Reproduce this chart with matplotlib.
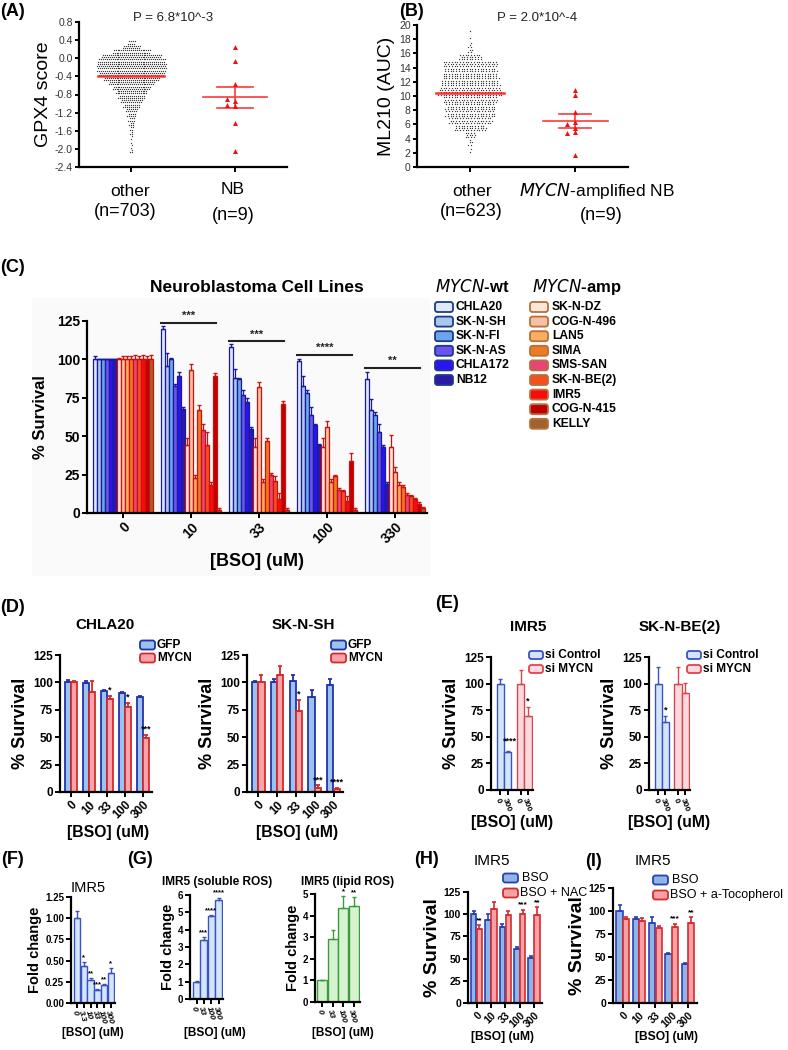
import numpy as np
import matplotlib
matplotlib.use("Agg")
import matplotlib.pyplot as plt
from matplotlib.patches import FancyBboxPatch, Rectangle

plt.rcParams['font.family'] = ['Liberation Sans', 'DejaVu Sans']
plt.rcParams['axes.unicode_minus'] = False

W, H = 788, 1050

# ---------------- data ----------------
# (A) GPX4 score, 'other' lines: counts per 0.1 bin (lower edge listed)
gpx4_bin_lo = [-2.1, -2.0, -1.9, -1.8, -1.7, -1.6, -1.5, -1.4, -1.3, -1.2, -1.1, -1.0, -0.9,
               -0.8, -0.7, -0.6, -0.5, -0.4, -0.3, -0.2, -0.1, 0.0, 0.1, 0.2, 0.3]
gpx4_counts = [3, 2, 1, 2, 3, 4, 5, 7, 9, 12, 17, 22, 27,
               33, 40, 48, 58, 68, 72, 72, 70, 62, 40, 18, 8]
gpx4_nb = [0.25, -0.07, -0.56, -0.94, -0.89, -1.06, -1.04, -1.43, -2.05]
gpx4_ticks = ['-2.4', '-2.0', '-1.6', '-1.2', '-0.8', '-0.4', '0.0', '0.4', '0.8']

# (B) ML210 AUC, 'other' lines: counts per 1.0 bin
ml210_bin_lo = [2, 3, 4, 5, 6, 7, 8, 9, 10, 11, 12, 13, 14, 15, 16, 17, 18, 19]
ml210_counts = [2, 5, 12, 35, 48, 55, 55, 60, 70, 65, 62, 59, 60, 25, 6, 2, 1, 1]
ml210_nb = [10.8, 10.2, 7.8, 6.3, 6.1, 5.5, 5.0, 4.8, 1.7]

# (C) neuroblastoma cell lines
bso_c = ['0', '10', '33', '100', '330']
wt_lines = ['CHLA20', 'SK-N-SH', 'SK-N-FI', 'SK-N-AS', 'CHLA172', 'NB12']
amp_lines = ['SK-N-DZ', 'COG-N-496', 'LAN5', 'SIMA', 'SMS-SAN', 'SK-N-BE(2)', 'IMR5',
             'COG-N-415', 'KELLY']
wt_colors = ['#dde9f7', '#a8c8eb', '#6aa6ec', '#6b55ee', '#2a14f2', '#2a1aa6']
amp_colors = ['#fbe6da', '#f6c2a2', '#f9ae5f', '#ee7a22', '#e84478', '#f3501f', '#ff0a0a',
              '#c00000', '#a0622e']
# rows = cell lines (wt then amp), columns = BSO dose
c_surv = [
    [100, 120, 108, 99, 87],
    [100, 96, 88, 83, 67],
    [100, 100, 87, 78, 64],
    [100, 83, 77, 64, 53],
    [100, 89, 72, 57, 43],
    [100, 68, 55, 44, 19],
    [100, 44, 43, 43, 43],
    [100, 93, 82, 56, 27],
    [100, 23, 20, 20, 18],
    [100, 67, 47, 24, 17],
    [100, 54, 25, 15, 12],
    [100, 44, 21, 14, 11],
    [100, 18, 9, 8, 9],
    [100, 89, 71, 34, 6],
    [100, 2, 2, 2, 3],
]
c_err = [
    [2, 2, 2, 1, 5],
    [0, 8, 6, 6, 7],
    [0, 1, 1, 2, 2],
    [0, 1, 3, 5, 5],
    [0, 3, 3, 1, 1],
    [0, 1, 1, 1, 1],
    [1, 5, 6, 6, 8],
    [2, 4, 3, 4, 3],
    [2, 2, 2, 2, 2],
    [2, 3, 2, 1, 1],
    [3, 4, 1, 1, 1],
    [2, 9, 3, 1, 1],
    [3, 2, 4, 3, 1],
    [2, 2, 2, 5, 1],
    [3, 1, 1, 1, 1],
]
c_sig = ['', '***', '***', '****', '**']
c_sig_y = [0, 124, 112, 103, 94.5]

# (D) GFP vs MYCN overexpression
bso_d = ['0', '10', '33', '100', '300']
chla20_gfp = [100, 99, 92, 90, 87]
chla20_gfp_err = [2, 2, 1, 1, 1]
chla20_mycn = [100, 91, 85, 78, 49]
chla20_mycn_err = [1, 10, 3, 3, 3]
chla20_stars = ['', '', '*', '*', '***']
sknsh_gfp = [100, 100, 101, 87, 98]
sknsh_gfp_err = [1, 3, 6, 6, 5]
sknsh_mycn = [100, 107, 74, 4, 3]
sknsh_mycn_err = [7, 8, 10, 2, 1]
sknsh_stars = ['', '', '*', '***', '****']

# (E) siRNA knockdown, BSO 0 / 300
bso_e = ['0', '300']
imr5_sictl = [100, 36]
imr5_sictl_err = [4, 1]
imr5_simycn = [100, 70]
imr5_simycn_err = [13, 8]
be2_sictl = [100, 64]
be2_sictl_err = [16, 6]
be2_simycn = [100, 91]
be2_simycn_err = [16, 10]

# (F) GSH fold change
bso_f = ['0', '3.3', '10', '33', '100', '300']
gsh_fold = [1.00, 0.44, 0.27, 0.15, 0.21, 0.35]
gsh_err = [0.08, 0.04, 0.02, 0.01, 0.01, 0.06]
gsh_stars = ['', '*', '**', '***', '**', '*']

# (G) ROS
bso_g = ['0', '33', '100', '300']
sol_ros = [1.0, 3.4, 4.78, 5.7]
sol_ros_err = [0.02, 0.15, 0.05, 0.15]
sol_stars = ['', '***', '****', '****']
lip_ros = [1.0, 2.9, 4.35, 4.45]
lip_ros_err = [0.03, 0.45, 0.55, 0.4]
lip_stars = ['', '', '*', '**']

# (H) NAC rescue
bso_h = ['0', '10', '33', '100', '300']
h_bso = [100, 94, 86, 61, 51]
h_bso_err = [4, 6, 3, 2, 2]
h_nac = [83, 106, 99, 100, 99]
h_nac_err = [5, 8, 5, 5, 9]
h_stars = ['**', '', '', '***', '**']

# (I) a-tocopherol rescue
i_bso = [100, 91, 87, 53, 42]
i_bso_err = [7, 3, 7, 1, 1]
i_toc = [91, 89, 81, 83, 87]
i_toc_err = [2, 3, 3, 3, 6]
i_stars = ['', '', '', '***', '**']

# ---------------- helpers ----------------
fig = plt.figure(figsize=(W / 100, H / 100), dpi=100)

# very faint grey backdrop behind the (C) plot, as in the pasted original
bg = fig.add_axes([0, 0, 1, 1], zorder=-5)
bg.set_xlim(0, W)
bg.set_ylim(H, 0)
bg.axis('off')
bg.add_patch(Rectangle((32, 298), 398, 278, fc='#fafafa', ec='none'))


def add_ax(l, t, r, b):
    ax = fig.add_axes([l / W, 1 - b / H, (r - l) / W, (b - t) / H])
    ax.spines['top'].set_visible(False)
    ax.spines['right'].set_visible(False)
    for s in ('left', 'bottom'):
        ax.spines[s].set_linewidth(1.6)
    ax.tick_params(direction='out', width=1.4, length=3.5, pad=1.5)
    ax.patch.set_alpha(0)
    return ax


ov = fig.add_axes([0, 0, 1, 1], zorder=10)
ov.set_xlim(0, W)
ov.set_ylim(H, 0)
ov.axis('off')


def txt(x, y, s, size=10, weight='bold', **kw):
    kw.setdefault('ha', 'center')
    kw.setdefault('va', 'center')
    ov.text(x, y, s, fontsize=size, fontweight=weight, **kw)


def legend_box(x, y, fc, ec, label, size=8.5, weight='bold', w=15, h=10, gap=3):
    ov.add_patch(FancyBboxPatch((x, y - h / 2), w, h, boxstyle='round,pad=0,rounding_size=2.5',
                                fc=fc, ec=ec, lw=1.3))
    ov.text(x + w + gap, y, label, fontsize=size, fontweight=weight, ha='left', va='center')


def swarm_rows(bin_lo, counts, binw, nrows, dx):
    xs, ys = [], []
    for lo, n in zip(bin_lo, counts):
        per = [n // nrows + (1 if r < n % nrows else 0) for r in range(nrows)]
        for r, m in enumerate(per):
            y = lo + (r + 0.5) * binw / nrows
            shift = dx / 2 if r % 2 else 0
            for k in range(m):
                xs.append((k - (m - 1) / 2) * dx + shift)
                ys.append(y)
    return np.array(xs), np.array(ys)


def swarm_small(vals, xstep, ythr):
    placed = []
    for v in vals:
        for k in (0, -1, 1, -2, 2, -3, 3):
            x = k * xstep
            if all(abs(x - px) > 0.9 * xstep or abs(v - py) > ythr for px, py in placed):
                placed.append((x, v))
                break
    return np.array([p[0] for p in placed]), np.array([p[1] for p in placed])


def dot_panel(ax, bin_lo, counts, binw, nrows, dx, nb, nb_xstep, nb_ythr, meanw, semw):
    xs, ys = swarm_rows(bin_lo, counts, binw, nrows, dx)
    ax.scatter(xs, ys, s=0.9, c='#3a3a3a', marker='o', lw=0, zorder=2)
    ax.plot([-0.32, 0.32], [ys.mean()] * 2, color='#ff3030', lw=1.8, zorder=3)
    nx, ny = swarm_small(nb, nb_xstep, nb_ythr)
    ax.scatter(1 + nx, ny, s=13, c='#ee1111', marker='^', lw=0, zorder=3)
    m = np.mean(nb)
    sem = np.std(nb, ddof=1) / np.sqrt(len(nb))
    ax.plot([1 - meanw, 1 + meanw], [m, m], color='#ff3a3a', lw=1.2)
    ax.plot([1 - semw, 1 + semw], [m + sem] * 2, color='#ff3a3a', lw=1.2)
    ax.plot([1 - semw, 1 + semw], [m - sem] * 2, color='#ff3a3a', lw=1.2)
    ax.plot([1, 1], [m - sem, m + sem], color='#ff3a3a', lw=1.2)
    ax.set_xlim(-0.5, 1.5)
    ax.set_xticks([0, 1])
    ax.set_xticklabels([])
    ax.tick_params(axis='y', labelsize=7.5, labelcolor='#333333', length=3)


def grouped_bars(ax, series, width, offsets, stars=None, star_series=1, star_size=7, lw=1.3,
                 capsize=1.5):
    # series: list of (values, errors, fill, edge)
    for (vals, errs, fc, ec), off in zip(series, offsets):
        x = np.arange(len(vals)) + off
        ax.bar(x, vals, width, color=fc, edgecolor=ec, lw=lw, zorder=2)
        ax.errorbar(x, vals, yerr=[np.zeros(len(vals)), errs], fmt='none', ecolor=ec,
                    elinewidth=lw, capsize=capsize, capthick=lw, zorder=3)
    if stars:
        vals, errs = series[star_series][0], series[star_series][1]
        off = offsets[star_series]
        top = ax.get_ylim()[1]
        for i, s in enumerate(stars):
            if s:
                ax.text(i + off, vals[i] + errs[i] + 0.01 * top, s, ha='center', va='bottom',
                        fontsize=star_size, fontweight='bold')


# ---------------- (A) ----------------
axA = add_ax(79, 22, 287, 167)
dot_panel(axA, gpx4_bin_lo, gpx4_counts, 0.1, 2, 0.0185, gpx4_nb, 0.075, 0.09, 0.31, 0.17)
axA.set_ylim(-2.4, 0.8)
axA.set_yticks([float(t) for t in gpx4_ticks])
axA.set_yticklabels(gpx4_ticks)
axA.set_ylabel('GPX4 score', fontsize=14, labelpad=2)
txt(13, 12, '(A)', 13)
txt(173, 18, 'P = 6.8*10^-3', 9.5, 'normal', color='#222222')
txt(130, 191, 'other', 12.5, 'normal')
txt(125, 212, '(n=703)', 13, 'normal')
txt(233, 190, 'NB', 12.5, 'normal')
txt(233, 215, '(n=9)', 13, 'normal')

# ---------------- (B) ----------------
axB = add_ax(417, 25, 628, 167)
dot_panel(axB, ml210_bin_lo, ml210_counts, 1.0, 3, 0.026, ml210_nb, 0.075, 0.45, 0.31, 0.15)
axB.set_ylim(0, 20)
axB.set_yticks(np.arange(0, 21, 2))
axB.set_ylabel('ML210 (AUC)', fontsize=14, labelpad=3)
txt(412, 12, '(B)', 13)
txt(537, 18, 'P = 2.0*10^-4', 9.5, 'normal', color='#222222')
txt(472, 191, 'other', 12.5, 'normal')
txt(471, 212, '(n=623)', 13, 'normal')
txt(597, 191, r'$\it{MYCN}$-amplified NB', 12.5, 'normal')
txt(601, 215, '(n=9)', 13, 'normal')

# ---------------- (C) ----------------
axC = add_ax(87, 321, 427, 513)
ncell = len(wt_lines) + len(amp_lines)
gstep = ncell + 2
all_colors = wt_colors + amp_colors
for i in range(ncell):
    ec = '#1a1a9a' if i < len(wt_lines) else '#cc1111'
    x = np.arange(len(bso_c)) * gstep + i
    axC.bar(x, c_surv[i], 1.0, color=all_colors[i], edgecolor=ec, lw=0.9, zorder=2)
    axC.errorbar(x, c_surv[i], yerr=[np.zeros(len(bso_c)), c_err[i]], fmt='none',
                 ecolor=ec, elinewidth=0.9, capsize=1.2, zorder=3)
for g, (s, y) in enumerate(zip(c_sig, c_sig_y)):
    if s:
        axC.plot([g * gstep - 0.5, g * gstep + 13.3], [y, y], color='#222222', lw=1.5,
                 clip_on=False)
        axC.text(g * gstep + 6.4, y + 1, s, ha='center', va='bottom', fontsize=8,
                 fontweight='bold', color='#222222')
axC.set_xlim(-2, 83)
axC.set_ylim(0, 125)
axC.set_yticks([0, 25, 50, 75, 100, 125])
axC.set_xticks(np.arange(len(bso_c)) * gstep + 7)
axC.set_xticklabels(bso_c, rotation=45, ha='right', rotation_mode='anchor', fontsize=10,
                    fontweight='bold')
for lab in axC.get_yticklabels():
    lab.set_fontweight('bold')
    lab.set_fontsize(10)
axC.set_ylabel('% Survival', fontsize=12, fontweight='bold', labelpad=6)
txt(13, 267, '(C)', 13)
txt(257, 288, 'Neuroblastoma Cell Lines', 12.5)
txt(257, 562, '[BSO] (uM)', 13)
txt(435, 287, r'$\mathbf{\it{MYCN}}$-wt', 12, ha='left')
txt(532, 287, r'$\mathbf{\it{MYCN}}$-amp', 12, ha='left')
for i, (name, col) in enumerate(zip(wt_lines, wt_colors)):
    legend_box(435, 307 + i * 14.6, col, '#1f3a8c', name, 8.7, w=18, h=10, gap=3)
for i, (name, col) in enumerate(zip(amp_lines, amp_colors)):
    legend_box(530, 307 + i * 14.6, col, '#b8703c', name, 8.7, w=18, h=10, gap=4)

# ---------------- (D) ----------------
gfp_fc, gfp_ec = '#9cc3ee', '#2233aa'
myc_fc, myc_ec = '#f6a3aa', '#d42a2a'
for (l, r, name, g, ge, m, me, st, tx) in [
        (60, 152, 'CHLA20', chla20_gfp, chla20_gfp_err, chla20_mycn, chla20_mycn_err,
         chla20_stars, 105),
        (247, 343, 'SK-N-SH', sknsh_gfp, sknsh_gfp_err, sknsh_mycn, sknsh_mycn_err,
         sknsh_stars, 303)]:
    ax = add_ax(l, 655, r, 792)
    ax.set_ylim(0, 125)
    ax.set_xlim(-0.6, 4.5)
    grouped_bars(ax, [(g, ge, gfp_fc, gfp_ec), (m, me, myc_fc, myc_ec)], 0.33, [-0.17, 0.17],
                 stars=st, star_size=6.5)
    ax.set_yticks([0, 25, 50, 75, 100, 125])
    ax.set_xticks(range(len(bso_d)))
    ax.set_xticklabels(bso_d, rotation=45, ha='right', rotation_mode='anchor', fontsize=8.5,
                       fontweight='bold')
    for lab in ax.get_yticklabels():
        lab.set_fontweight('bold')
        lab.set_fontsize(8.5)
    ax.set_ylabel('% Survival', fontsize=13, fontweight='bold', labelpad=3)
    txt(tx, 625, name, 11)
    txt((l + r) / 2 + 2, 833, '[BSO] (uM)', 11.3)
    legend_box(r - 12, 645, gfp_fc, gfp_ec, 'GFP', 8.6, w=15, h=9, gap=2)
    legend_box(r - 12, 658, myc_fc, myc_ec, 'MYCN', 8.6, w=15, h=9, gap=2)
txt(13, 607, '(D)', 13)

# ---------------- (E) ----------------
ctl_fc, ctl_ec = '#d3e5f8', '#3b52c4'
si_fc, si_ec = '#fbd9de', '#d8474f'
for (l, r, name, c, ce, s, se, tx, stars_c, stars_s) in [
        (491, 533, 'IMR5', imr5_sictl, imr5_sictl_err, imr5_simycn, imr5_simycn_err, 528,
         ['', ''], ['', '*']),
        (649, 690, 'SK-N-BE(2)', be2_sictl, be2_sictl_err, be2_simycn, be2_simycn_err, 680,
         ['', '*'], ['', ''])]:
    ax = add_ax(l, 657, r, 790)
    ax.set_ylim(0, 125)
    ax.set_xlim(-1.3, 4.5)
    xc = np.arange(len(bso_e))
    xs = np.arange(len(bso_e)) + 2.8
    ax.bar(xc, c, 1.0, color=ctl_fc, edgecolor=ctl_ec, lw=1.0, zorder=2)
    ax.errorbar(xc, c, yerr=[np.zeros(2), ce], fmt='none', ecolor=ctl_ec, elinewidth=1.0,
                capsize=1.5, zorder=3)
    ax.bar(xs, s, 1.0, color=si_fc, edgecolor=si_ec, lw=1.0, zorder=2)
    ax.errorbar(xs, s, yerr=[np.zeros(2), se], fmt='none', ecolor=si_ec, elinewidth=1.0,
                capsize=1.5, zorder=3)
    for i in range(2):
        if stars_c[i]:
            ax.text(xc[i], c[i] + ce[i] + 1, stars_c[i], ha='center', va='bottom', fontsize=6.5,
                    fontweight='bold')
        if stars_s[i]:
            ax.text(xs[i], s[i] + se[i] + 1, stars_s[i], ha='center', va='bottom', fontsize=6.5,
                    fontweight='bold')
    ax.set_yticks([0, 25, 50, 75, 100, 125])
    ax.set_xticks(list(xc) + list(xs))
    ax.set_xticklabels(bso_e * 2, rotation=-70, ha='left', rotation_mode='anchor', fontsize=6,
                       fontweight='bold')
    for lab in ax.get_yticklabels():
        lab.set_fontweight('bold')
        lab.set_fontsize(8.5)
    ax.set_ylabel('% Survival', fontsize=13, fontweight='bold', labelpad=3)
    txt(tx, 627, name, 11)
    txt((l + r) / 2 + 0, 822, '[BSO] (uM)', 11.3)
    legend_box(l + 38, 655, ctl_fc, ctl_ec, 'si Control', 8.6, w=14, h=8, gap=2)
    legend_box(l + 38, 669, si_fc, si_ec, 'si MYCN', 8.6, w=14, h=8, gap=2)
# '****' for IMR5 si Control 300
txt(510, 741, '****', 6.5)
txt(447, 603, '(E)', 13)

# ---------------- (F) ----------------
f_fc, f_ec = '#d3e5f8', '#3b52c4'
axF = add_ax(71, 897, 115, 1003)
axF.set_ylim(0, 1.25)
axF.set_xlim(-0.9, 5.6)
grouped_bars(axF, [(gsh_fold, gsh_err, f_fc, f_ec)], 0.95, [0], stars=gsh_stars, star_series=0,
             star_size=5.5, lw=1.0)
axF.set_yticks([0, 0.25, 0.5, 0.75, 1.0, 1.25])
axF.set_yticklabels(['0.00', '0.25', '0.50', '0.75', '1.00', '1.25'], fontsize=7,
                    fontweight='bold')
axF.set_xticks(range(len(bso_f)))
axF.set_xticklabels(bso_f, rotation=-75, ha='left', rotation_mode='anchor', fontsize=6,
                    fontweight='bold', style='italic')
axF.set_ylabel('Fold change', fontsize=10.5, fontweight='bold', labelpad=2)
txt(13, 860, '(F)', 13)
txt(88, 888, 'IMR5', 10.5, 'normal')
txt(93, 1033, '[BSO] (uM)', 8.6)

# ---------------- (G) ----------------
g_fc, g_ec = '#d3e5f8', '#3b52c4'
l_fc, l_ec = '#d6f3d0', '#3d9b3d'
axG1 = add_ax(190, 895, 223, 999)
axG1.set_ylim(0, 6)
axG1.set_xlim(-0.9, 3.6)
grouped_bars(axG1, [(sol_ros, sol_ros_err, g_fc, g_ec)], 0.95, [0], stars=sol_stars,
             star_series=0, star_size=5.5, lw=1.0)
axG1.set_yticks(range(7))
axG2 = add_ax(315, 894, 360, 1002)
axG2.set_ylim(0, 5)
axG2.set_xlim(-0.7, 3.6)
grouped_bars(axG2, [(lip_ros, lip_ros_err, l_fc, l_ec)], 0.95, [0], stars=lip_stars,
             star_series=0, star_size=5.5, lw=1.0)
axG2.set_yticks(range(6))
for ax, x in ((axG1, 215), (axG2, 343)):
    ax.set_xticks(range(len(bso_g)))
    ax.set_xticklabels(bso_g, rotation=-75, ha='left', rotation_mode='anchor', fontsize=6,
                       fontweight='bold', style='italic')
    for lab in ax.get_yticklabels():
        lab.set_fontweight('bold')
        lab.set_fontsize(7)
    ax.set_ylabel('Fold change', fontsize=10.5, fontweight='bold', labelpad=2)
    txt(x, 1033, '[BSO] (uM)', 8.6)
txt(140, 860, '(G)', 13)
txt(217, 882, 'IMR5 (soluble ROS)', 8.6)
txt(348, 882, 'IMR5 (lipid ROS)', 8.6)

# ---------------- (H) / (I) ----------------
b_fc, b_ec = '#8fb4e6', '#2a3fb5'
r_fc, r_ec = '#f4a1a7', '#d62c2c'
for (l, t, r, v1, e1, v2, e2, st, lab2, title_x, lx, ly, xl_x) in [
        (468, 892, 542, h_bso, h_bso_err, h_nac, h_nac_err, h_stars, 'BSO + NAC', 492, 503,
         878, 503),
        (613, 888, 697, i_bso, i_bso_err, i_toc, i_toc_err, i_stars, 'BSO + a-Tocopherol', 653,
         653, 880, 667)]:
    ax = add_ax(l, t, r, 1003)
    ax.set_ylim(0, 125)
    ax.set_xlim(-0.6, 4.55)
    grouped_bars(ax, [(v1, e1, b_fc, b_ec), (v2, e2, r_fc, r_ec)], 0.38, [-0.2, 0.2], stars=st,
                 star_size=6, lw=1.2)
    ax.set_yticks([0, 25, 50, 75, 100, 125])
    ax.set_xticks(range(len(bso_h)))
    ax.set_xticklabels(bso_h, rotation=45, ha='right', rotation_mode='anchor', fontsize=7.5,
                       fontweight='bold')
    for lb in ax.get_yticklabels():
        lb.set_fontweight('bold')
        lb.set_fontsize(7.5)
    ax.set_ylabel('% Survival', fontsize=14, fontweight='bold', labelpad=2)
    txt(title_x, 861, 'IMR5', 11, 'normal')
    legend_box(lx, ly, b_fc, b_ec, 'BSO', 9, 'normal', w=15, h=9, gap=4)
    legend_box(lx, ly + 15, r_fc, r_ec, lab2, 9, 'normal', w=15, h=9, gap=2)
    txt(xl_x, 1037, '[BSO] (uM)', 8.7)
txt(427, 860, '(H)', 13)
txt(594, 862, '(I)', 13)

fig.savefig('out.png', dpi=100)
